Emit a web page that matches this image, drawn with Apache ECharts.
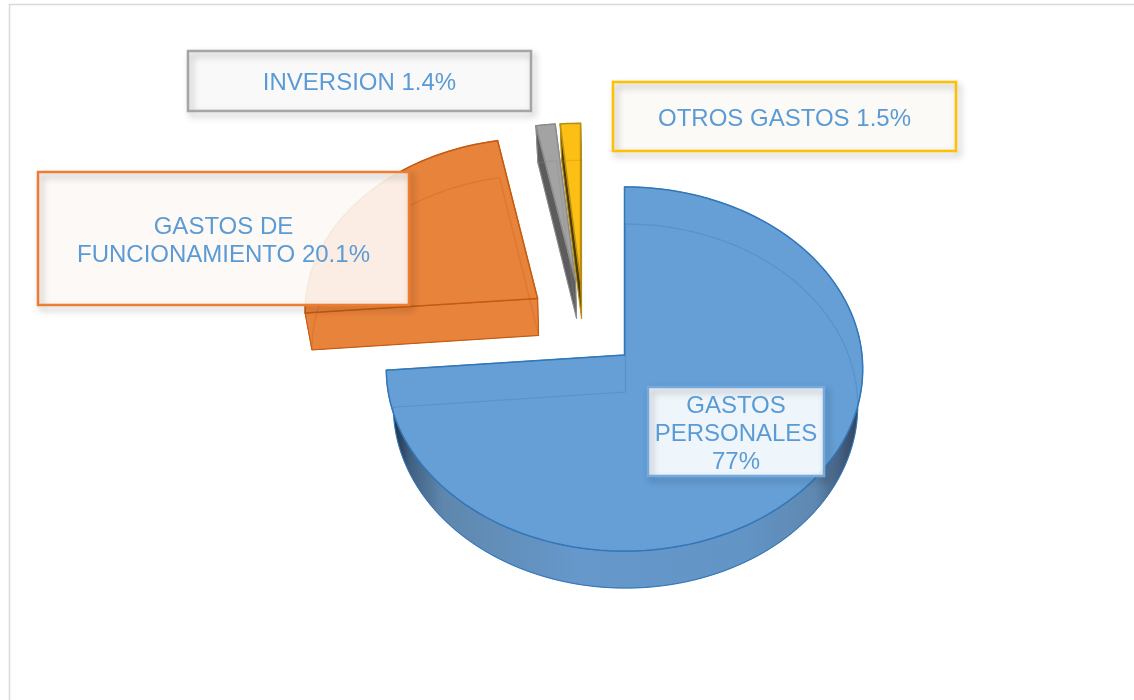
<!DOCTYPE html>
<html>
<head>
<meta charset="utf-8">
<title>Gastos</title>
<style>
  html, body { margin: 0; padding: 0; background: #fff; }
  #chart { width: 1134px; height: 700px; }
</style>
<script src="https://cdn.jsdelivr.net/npm/echarts@6/dist/echarts.min.js"></script>
</head>
<body>
<div id="chart"></div>
<script>
const categories = ['GASTOS PERSONALES', 'GASTOS DE FUNCIONAMIENTO', 'INVERSION', 'OTROS GASTOS']
const percents = [77, 20.1, 1.4, 1.5]

// slice look, same order as categories
const topColors = ['#659fd6', '#e8833c', '#a3a3a3', '#fcbf14']
const edgeColors = ['#3377b8', '#c55a11', '#8c8c8c', '#b98f10']
const cutColors = ['#2d5f92', '#e8833c', '#5c5c5c', '#4a3a08']
const explode = [[0, 0], [-0.366, 0.32], [-0.206, 0.42], [-0.185, 0.42]]

// label boxes [x, y, width, height], border, fill, word count before each line break
const boxes = [[648, 387, 176, 89], [38, 172, 371, 133], [188, 51, 343, 60], [613, 82, 343, 69]]
const boxBorders = ['#74aade', '#ed7d31', '#a5a5a5', '#ffc000']
const boxFills = ['rgba(255,255,255,0.89)', 'rgba(253,248,245,0.9)', 'rgba(249,249,249,0.95)', 'rgba(251,250,245,0.95)']
const lineBreaks = [[1, 2], [2], [], []]

// the 3D view of the pie
const view = { cx: 624.5, cy: 355, rx: 237.5, ry: 181, persp: 0.077, depth: 37, baseScale: 0.975, skew: 13.7 }

const total = percents.reduce((a, b) => a + b, 0)

function cumAngle(i) {
  const sum = percents.slice(0, i).reduce((a, b) => a + b, 0)
  return 360 * sum / total
}
// the tilted view pulls the left side of the pie round a little
function viewAngle(deg) {
  return deg - view.skew * (1 - Math.cos(deg * Math.PI / 180))
}
function project(deg, radius, i, base) {
  const rad = deg * Math.PI / 180
  const u = Math.sin(rad) * radius * (base ? view.baseScale : 1)
  const z = Math.cos(rad) * radius + explode[i][1]
  const w = 1 / (1 + view.persp * z)
  return [
    view.cx + view.rx * (u * w + explode[i][0]) + (base ? 1 : 0),
    view.cy - view.ry * z * w + (base ? view.depth : 0)
  ]
}
function arc(a0, a1, i, base) {
  const n = Math.max(2, Math.ceil(Math.abs(a1 - a0) / 2))
  const pts = []
  for (let k = 0; k <= n; k++) {
    pts.push(project(a0 + (a1 - a0) * k / n, 1, i, base))
  }
  return pts
}
function labelText(i) {
  const words = (categories[i] + ' ' + percents[i] + '%').split(' ')
  return words.reduce((text, word, k) => {
    if (k === 0) return word
    return text + (lineBreaks[i].indexOf(k) >= 0 ? '\n' : ' ') + word
  }, '')
}

function renderSlice(params, api) {
  const i = params.dataIndex
  const a0 = viewAngle(cumAngle(i))
  const a1 = viewAngle(cumAngle(i + 1))
  const apexTop = project(0, 0, i, false)
  const apexBase = project(0, 0, i, true)
  const topArc = arc(a0, a1, i, false)
  const baseArc = arc(a0, a1, i, true)
  const children = []
  const poly = (points, fill, stroke, width) => children.push({
    type: 'polygon',
    shape: { points: points },
    style: { fill: fill, stroke: stroke || null, lineWidth: width || 0 }
  })
  const wall = i === 0 ? {
    type: 'linear', x: 0, y: 0, x2: 1, y2: 0,
    colorStops: [
      { offset: 0, color: '#22364d' },
      { offset: 0.02, color: '#22364d' },
      { offset: 0.05, color: '#3f5f80' },
      { offset: 0.12, color: '#5f87ad' },
      { offset: 0.4, color: '#6698cb' },
      { offset: 0.75, color: '#6294c6' },
      { offset: 0.9, color: '#5f88b0' },
      { offset: 0.96, color: '#40597a' },
      { offset: 1, color: '#2b3d50' }
    ]
  } : topColors[i]

  poly(baseArc.concat([apexBase]), topColors[i])
  poly(topArc.concat(baseArc.slice().reverse()), wall, edgeColors[i], 1)
  poly([apexTop, topArc[topArc.length - 1], baseArc[baseArc.length - 1], apexBase], cutColors[i], edgeColors[i], 1)
  poly([apexTop, topArc[0], baseArc[0], apexBase], cutColors[i], edgeColors[i], 1)
  poly(topArc.concat([apexTop]), topColors[i], edgeColors[i], 1.5)
  // far edges of the base show faintly through the top
  children.push({
    type: 'polygon',
    shape: { points: baseArc.concat([apexBase]) },
    style: { fill: null, stroke: edgeColors[i], lineWidth: 1.2, opacity: 0.3 }
  })
  return { type: 'group', children: children }
}

function renderLabel(params, api) {
  const i = params.dataIndex
  const b = boxes[i]
  const shape = { x: b[0], y: b[1], width: b[2], height: b[3] }
  return {
    type: 'group',
    children: [
      { type: 'rect', shape: shape, style: { fill: boxFills[i] } },
      {
        // the shadow hangs off the stroke only, a filled rect would show it through the fill
        type: 'rect',
        shape: shape,
        style: {
          fill: null,
          stroke: boxBorders[i],
          lineWidth: 2.5,
          shadowColor: 'rgba(0,0,0,0.3)',
          shadowBlur: 7,
          shadowOffsetX: 3,
          shadowOffsetY: 4
        }
      },
      {
        type: 'text',
        x: b[0] + b[2] / 2,
        y: b[1] + b[3] / 2 + 2.5,
        style: {
          text: labelText(i),
          align: 'center',
          verticalAlign: 'middle',
          fill: '#5b9bd5',
          font: '24px "Liberation Sans", Arial, sans-serif',
          lineHeight: 28
        }
      }
    ]
  }
}

const chart = echarts.init(document.getElementById('chart'), null, { renderer: 'canvas' })
const seriesData = categories.map((name, i) => ({ name: name, value: percents[i] }))
chart.setOption({
  animation: false,
  backgroundColor: '#fff',
  graphic: [{
    type: 'polyline',
    shape: { points: [[9.5, 700], [9.5, 4.5], [1134, 4.5]] },
    style: { fill: null, stroke: '#d9d9d9', lineWidth: 1.5 }
  }],
  series: [
    { type: 'custom', coordinateSystem: 'none', renderItem: renderSlice, data: seriesData, z: 2, silent: true },
    { type: 'custom', coordinateSystem: 'none', renderItem: renderLabel, data: seriesData, z: 3, silent: true }
  ]
})
</script>
</body>
</html>
